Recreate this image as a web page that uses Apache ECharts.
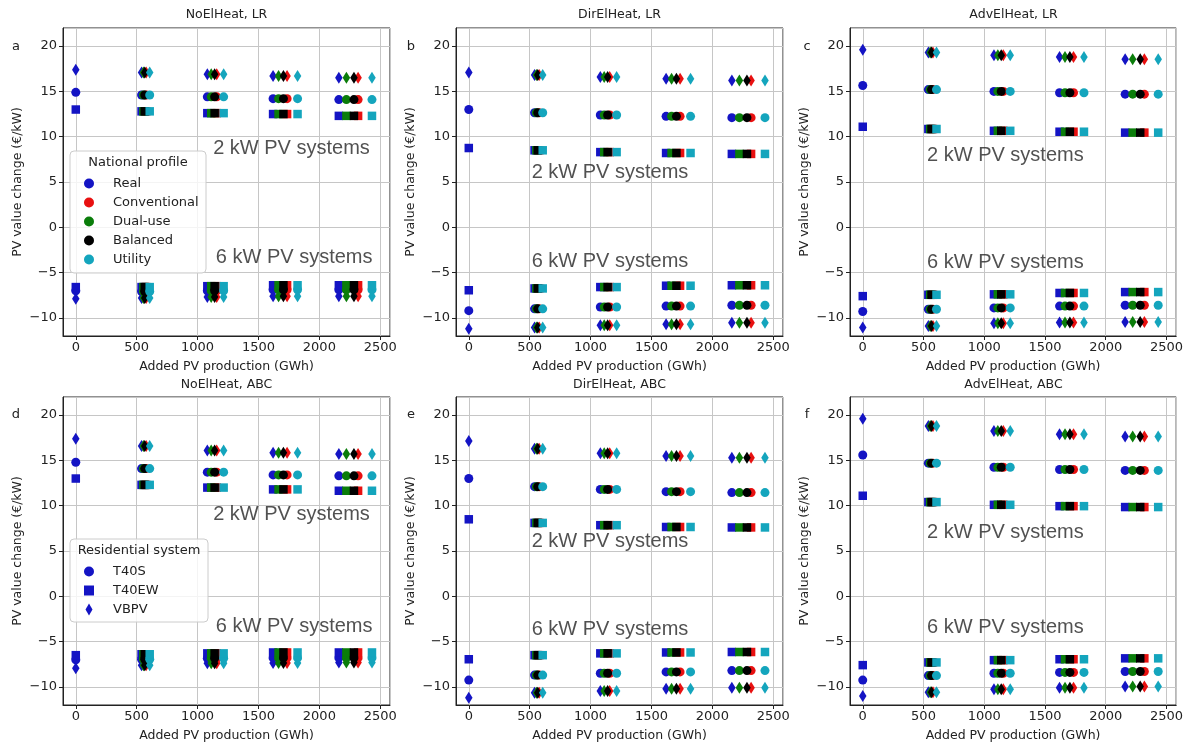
<!DOCTYPE html>
<html>
<head>
<meta charset="utf-8">
<script src="https://cdn.jsdelivr.net/npm/echarts@6/dist/echarts.min.js"></script>
<style>html,body{margin:0;padding:0;background:#fff}#c{width:1186px;height:743px}</style>
</head>
<body>
<div id="c"></div>
<script>
// ---------- DATA ----------
const profiles = ['Real', 'Conventional', 'Dual-use', 'Balanced', 'Utility'];
const systems = ['T40S', 'T40EW', 'VBPV'];
const panelTitles = ['NoElHeat, LR', 'DirElHeat, LR', 'AdvElHeat, LR', 'NoElHeat, ABC', 'DirElHeat, ABC', 'AdvElHeat, ABC'];
const panelLetters = ['a', 'b', 'c', 'd', 'e', 'f'];

// Added PV production (GWh); Real includes the reference point at 0
const xReal = [0, 540, 1080, 1620, 2160];
const xConventional = [578, 1157, 1735, 2318];
const xDualUse = [555, 1112, 1665, 2222];
const xBalanced = [566, 1140, 1705, 2284];
const xUtility = [607, 1214, 1821, 2432];

// y values: [reference(0 GWh), level1, level2, level3, level4]
// a: NoElHeat, LR
const a2_T40S = [14.9, 14.6, 14.4, 14.2, 14.1];
const a2_T40EW = [13.0, 12.8, 12.6, 12.5, 12.3];
const a2_VBPV = [17.4, 17.1, 16.9, 16.7, 16.5];
const a6_T40S = [-7.0, -7.1, -7.0, -6.9, -6.9];
const a6_T40EW = [-6.6, -6.6, -6.5, -6.4, -6.4];
const a6_VBPV = [-7.9, -7.8, -7.7, -7.6, -7.6];
// b: DirElHeat, LR
const b2_T40S = [13.0, 12.65, 12.4, 12.25, 12.1];
const b2_T40EW = [8.75, 8.5, 8.3, 8.2, 8.1];
const b2_VBPV = [17.1, 16.8, 16.6, 16.4, 16.2];
const b6_T40S = [-9.2, -9.0, -8.8, -8.7, -8.6];
const b6_T40EW = [-6.95, -6.75, -6.6, -6.45, -6.4];
const b6_VBPV = [-11.2, -11.05, -10.8, -10.7, -10.55];
// c: AdvElHeat, LR
const c2_T40S = [15.65, 15.2, 15.0, 14.85, 14.7];
const c2_T40EW = [11.1, 10.85, 10.65, 10.55, 10.45];
const c2_VBPV = [19.6, 19.3, 19.0, 18.8, 18.55];
const c6_T40S = [-9.3, -9.05, -8.9, -8.7, -8.6];
const c6_T40EW = [-7.6, -7.45, -7.4, -7.25, -7.15];
const c6_VBPV = [-11.05, -10.9, -10.6, -10.5, -10.45];
// d: NoElHeat, ABC
const d2_T40S = [14.8, 14.1, 13.7, 13.4, 13.3];
const d2_T40EW = [13.0, 12.3, 12.0, 11.8, 11.65];
const d2_VBPV = [17.4, 16.6, 16.1, 15.85, 15.7];
const d6_T40S = [-7.0, -6.95, -6.85, -6.8, -6.8];
const d6_T40EW = [-6.5, -6.4, -6.3, -6.2, -6.2];
const d6_VBPV = [-7.95, -7.6, -7.4, -7.35, -7.3];
// e: DirElHeat, ABC
const e2_T40S = [13.0, 12.1, 11.8, 11.55, 11.45];
const e2_T40EW = [8.5, 8.1, 7.85, 7.65, 7.6];
const e2_VBPV = [17.15, 16.3, 15.8, 15.5, 15.3];
const e6_T40S = [-9.25, -8.7, -8.5, -8.35, -8.2];
const e6_T40EW = [-6.95, -6.5, -6.3, -6.2, -6.15];
const e6_VBPV = [-11.2, -10.65, -10.45, -10.2, -10.1];
// f: AdvElHeat, ABC
const f2_T40S = [15.6, 14.7, 14.25, 14.0, 13.9];
const f2_T40EW = [11.1, 10.4, 10.1, 9.95, 9.85];
const f2_VBPV = [19.6, 18.8, 18.25, 17.9, 17.65];
const f6_T40S = [-9.25, -8.75, -8.5, -8.4, -8.3];
const f6_T40EW = [-7.6, -7.3, -7.05, -6.95, -6.85];
const f6_VBPV = [-11.0, -10.6, -10.25, -10.1, -9.95];

// annotation anchors (data coords: x, y) per panel
const annot2kW = [[1128, 8.7], [516, 6.0], [529, 7.9], [1128, 9.0], [516, 6.1], [529, 7.0]];
const annot6kW = [[1150, -3.3], [516, -3.8], [529, -3.9], [1150, -3.3], [516, -3.7], [529, -3.4]];

// ---------- BUILD ----------
const xByProfile = [xReal, xConventional, xDualUse, xBalanced, xUtility];
const panelData = [
  {T40S: [a2_T40S, a6_T40S], T40EW: [a2_T40EW, a6_T40EW], VBPV: [a2_VBPV, a6_VBPV]},
  {T40S: [b2_T40S, b6_T40S], T40EW: [b2_T40EW, b6_T40EW], VBPV: [b2_VBPV, b6_VBPV]},
  {T40S: [c2_T40S, c6_T40S], T40EW: [c2_T40EW, c6_T40EW], VBPV: [c2_VBPV, c6_VBPV]},
  {T40S: [d2_T40S, d6_T40S], T40EW: [d2_T40EW, d6_T40EW], VBPV: [d2_VBPV, d6_VBPV]},
  {T40S: [e2_T40S, e6_T40S], T40EW: [e2_T40EW, e6_T40EW], VBPV: [e2_VBPV, e6_VBPV]},
  {T40S: [f2_T40S, f6_T40S], T40EW: [f2_T40EW, f6_T40EW], VBPV: [f2_VBPV, f6_VBPV]}
];

const profileColors = ['#1414c4', '#e81010', '#0a7d0a', '#000000', '#14a5bd'];
const symbolOf = {T40S: 'circle', T40EW: 'rect', VBPV: 'diamond'};
const legendIconOf = {T40S: 'circle', T40EW: 'path://M0,0L9,0L9,9L0,9Z', VBPV: 'path://M3.5,0L7,6L3.5,12L0,6Z'};
const sizeOf = {T40S: 9, T40EW: 8.5, VBPV: [7.5, 12]};
const FONT = 'DejaVu Sans';
const colLeft = [63, 456, 850];
const rowTop = [28, 397];
const GW = 327, GH = 308;
const minus = v => String(v).replace('-', '\u2212');

const grid = [], xAxis = [], yAxis = [], series = [], graphic = [];
for (let p = 0; p < 6; p++) {
  const r = Math.floor(p / 3), c = p % 3;
  grid.push({left: colLeft[c], top: rowTop[r], width: GW, height: GH, show: true,
    borderColor: '#222', borderWidth: 1, containLabel: false});
  xAxis.push({gridIndex: p, type: 'value', min: -105, max: 2580, splitNumber: 5,
    name: 'Added PV production (GWh)', nameLocation: 'middle', nameGap: 24,
    nameTextStyle: {fontSize: 12.5, color: '#222', fontFamily: FONT},
    axisLine: {show: true, onZero: false, lineStyle: {color: '#222'}},
    axisTick: {show: true, length: 4, lineStyle: {color: '#222'}},
    axisLabel: {fontSize: 13, color: '#222', fontFamily: FONT, margin: 5, showMinLabel: false, showMaxLabel: false,
      formatter: v => String(v)},
    splitLine: {show: true, lineStyle: {color: '#c6c6c6', width: 1}}});
  yAxis.push({gridIndex: p, type: 'value', min: -12, max: 22, splitNumber: 6,
    name: 'PV value change (€/kW)', nameLocation: 'middle', nameGap: 39, nameRotate: 90,
    nameTextStyle: {fontSize: 12.5, color: '#222', fontFamily: FONT},
    axisLine: {show: true, onZero: false, lineStyle: {color: '#222'}},
    axisTick: {show: true, length: 4, lineStyle: {color: '#222'}},
    axisLabel: {fontSize: 13, color: '#222', fontFamily: FONT, margin: 6, showMinLabel: false, showMaxLabel: false,
      formatter: minus},
    splitLine: {show: true, lineStyle: {color: '#c6c6c6', width: 1}}});

  for (let k = 0; k < profiles.length; k++) {
    const xs = xByProfile[k];
    const off = k === 0 ? 0 : 1;
    for (const s of systems) {
      const data = [];
      for (const arr of panelData[p][s]) {
        for (let i = 0; i < xs.length; i++) data.push([xs[i], arr[i + off]]);
      }
      series.push({type: 'scatter', name: profiles[k], xAxisIndex: p, yAxisIndex: p,
        symbol: symbolOf[s], symbolSize: sizeOf[s], data: data, silent: true,
        itemStyle: {color: profileColors[k], opacity: 1}, emphasis: {disabled: true}});
    }
  }
  // annotations
  [['2 kW PV systems', annot2kW[p]], ['6 kW PV systems', annot6kW[p]]].forEach(([txt, pt]) => {
    series.push({type: 'scatter', xAxisIndex: p, yAxisIndex: p, symbolSize: 0, silent: true, z: 5,
      data: [pt], label: {show: true, position: 'right', distance: 0, formatter: txt,
        fontSize: 20, color: '#262626', fontFamily: 'Liberation Sans'}});
  });

  const cx = colLeft[c] + GW / 2;
  graphic.push({type: 'text', x: cx, y: r === 0 ? 15 : 385, style: {text: panelTitles[p],
    textAlign: 'center', textVerticalAlign: 'middle', fontSize: 12.5, fontFamily: FONT, fill: '#222'}});
  graphic.push({type: 'text', x: [16, 411, 807][c], y: r === 0 ? 47 : 415, style: {text: panelLetters[p],
    textAlign: 'center', textVerticalAlign: 'middle', fontSize: 13, fontFamily: FONT, fill: '#222'}});
}
// dummy series for residential-system legend
systems.forEach(s => series.push({type: 'scatter', name: s, xAxisIndex: 3, yAxisIndex: 3,
  symbol: symbolOf[s], data: [], itemStyle: {color: profileColors[0], opacity: 1}}));

// legend frames and titles
graphic.push({type: 'rect', z: 40, shape: {x: 70, y: 151, width: 136, height: 122, r: 4},
  style: {fill: 'rgba(255,255,255,0.8)', stroke: '#cccccc', lineWidth: 1}});
graphic.push({type: 'rect', z: 40, shape: {x: 70, y: 539, width: 138, height: 83, r: 4},
  style: {fill: 'rgba(255,255,255,0.8)', stroke: '#cccccc', lineWidth: 1}});
graphic.push({type: 'text', x: 138, y: 163, z: 100, style: {text: 'National profile', textAlign: 'center',
  textVerticalAlign: 'middle', fontSize: 13, fontFamily: FONT, fill: '#222'}});
graphic.push({type: 'text', x: 139, y: 551, z: 100, style: {text: 'Residential system', textAlign: 'center',
  textVerticalAlign: 'middle', fontSize: 13, fontFamily: FONT, fill: '#222'}});

const legendBase = {orient: 'vertical', selectedMode: false, itemWidth: 10, itemHeight: 10, itemGap: 6,
  symbolKeepAspect: true, padding: [26, 8, 9, 14], z: 50,
  textStyle: {fontSize: 13, color: '#222', fontFamily: FONT, padding: [0, 0, 0, 14]}};
const legend = [
  Object.assign({}, legendBase, {left: 70, top: 151,
    data: profiles.map(n => ({name: n, icon: 'circle'}))}),
  Object.assign({}, legendBase, {left: 70, top: 539, itemHeight: 12,
    data: systems.map(n => ({name: n, icon: legendIconOf[n]}))})
];

const chart = echarts.init(document.getElementById('c'), null, {renderer: 'canvas'});
chart.setOption({animation: false, backgroundColor: '#fff', grid, xAxis, yAxis, series, legend, graphic});
</script>
</body>
</html>
